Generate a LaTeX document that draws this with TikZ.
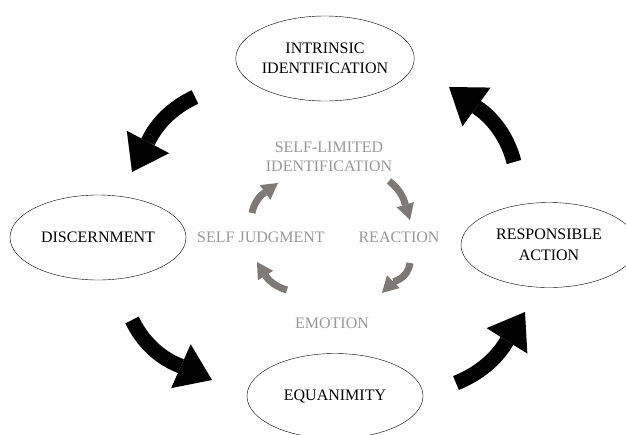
\documentclass[tikz,border=0pt]{standalone}
\usepackage{fontspec}
\setmainfont{Liberation Serif}
\usetikzlibrary{arrows.meta,shapes.geometric}

\definecolor{loopgrey}{RGB}{126,121,119}
\definecolor{labelgrey}{RGB}{152,152,152}

\begin{document}
\begin{tikzpicture}[x=1pt,y=-1pt,
                    stage/.style={ellipse,draw,thin,fill=white,minimum width=176pt,
                        minimum height=85pt,inner sep=0pt,align=center,
                        font=\fontsize{16}{20.5}\selectfont},
                    inner/.style={text=labelgrey,align=center,
                        font=\fontsize{16}{18.5}\selectfont},
                    bigarrow/.style={draw=black,line width=15pt,
                        -{Triangle[width=48pt,length=34pt,line width=0pt]}},
                    smallarrow/.style={draw=loopgrey,line width=7pt,
                        -{Triangle[width=18pt,length=16pt,line width=0pt]}}]

        \path[use as bounding box] (0,0) rectangle (626,434);
        \clip (0,0) rectangle (626,434);

        \node[stage] (intr) at (325,58.5) {INTRINSIC\\IDENTIFICATION};
        \node[stage] (disc) at (98,237.5) {DISCERNMENT};
        \node[stage] (resp) at (549,245) {RESPONSIBLE\\ACTION};
        \node[stage] (equa) at (335,396) {EQUANIMITY};

        \node[inner] (slim) at (329,157) {SELF-LIMITED\\IDENTIFICATION};
        \node[inner] (judg) at (261,237) {SELF JUDGMENT};
        \node[inner] (reac) at (399,237) {REACTION};
        \node[inner] (emot) at (332,323) {EMOTION};

        % outer cycle
        \coordinate (o1) at (195,97);  \coordinate (o1t) at (132,172);
        \coordinate (o2) at (132,320); \coordinate (o2t) at (212,380);
        \coordinate (o3) at (456,383); \coordinate (o3t) at (525,312);
        \coordinate (o4) at (514,162); \coordinate (o4t) at (449,87);

        \draw[bigarrow] (o1) to[out=205,in=62] (o1t);
        \draw[bigarrow] (o2) to[out=296,in=156] (o2t);
        \draw[bigarrow] (o3) to[out=22,in=238] (o3t);
        \draw[bigarrow] (o4) to[out=105,in=324] (o4t);

        % inner cycle
        \coordinate (i1) at (252,213); \coordinate (i1t) at (278,183);
        \coordinate (i2) at (389,181); \coordinate (i2t) at (410,220);
        \coordinate (i3) at (410,263); \coordinate (i3t) at (382,293);
        \coordinate (i4) at (287,290); \coordinate (i4t) at (257,262);

        \draw[smallarrow] (i1) to[out=79,in=216] (i1t);
        \draw[smallarrow] (i2) to[out=-37,in=107] (i2t);
        \draw[smallarrow] (i3) to[out=262,in=45] (i3t);
        \draw[smallarrow] (i4) to[out=165,in=-58] (i4t);
    \end{tikzpicture}
\end{document}
